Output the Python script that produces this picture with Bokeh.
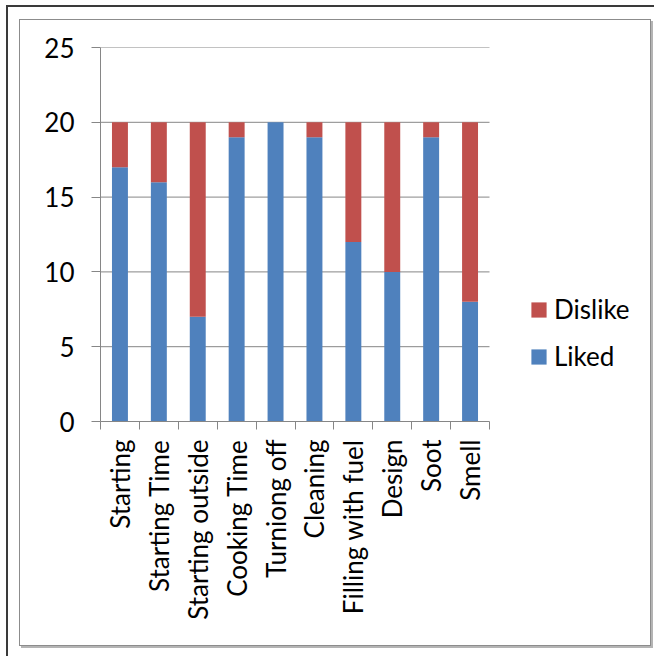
import math
from bokeh.plotting import figure
from bokeh.models import ColumnDataSource, Range1d, FixedTicker, Legend, LegendItem
from bokeh.embed import file_html
from bokeh.resources import INLINE

# Survey of stove features: how many users liked / disliked each aspect
categories = ["Starting", "Starting Time", "Starting outside", "Cooking Time",
              "Turniong off", "Cleaning", "Filling with fuel", "Design", "Soot", "Smell"]
liked = [17, 16, 7, 19, 20, 19, 12, 10, 19, 8]
dislike = [3, 4, 13, 1, 0, 1, 8, 10, 1, 12]
y_ticks = [0, 5, 10, 15, 20, 25]

BLUE = "#4F81BD"
RED = "#C0504D"
GRID = "#868686"
FONT = "Lato"
FONT_SIZE = "26px"

WIDTH, HEIGHT = 654, 656
LEFT, TOP, BOTTOM = 100, 47, 235
SLOT_PX = 38.9          # horizontal space given to one category
n = len(categories)


def css_line(color, x, y, w, h):
    return f"linear-gradient({color}, {color}) {x}px {y}px / {w}px {h}px no-repeat"


# outer frame (left/top edges) and the chart box with a soft shadow, painted
# behind the transparent canvas
frame_css = ", ".join([
    css_line("#3a3a3a", 6, 5, 2, 660),
    css_line("#3a3a3a", 6, 5, 660, 2),
    css_line("#8c8c8c", 19, 19, 1, 627),
    css_line("#8c8c8c", 19, 19, 632, 1),
    css_line("#8c8c8c", 650, 19, 1, 627),
    css_line("#8c8c8c", 19, 645, 632, 1),
    css_line("#b4b4b4", 651, 21, 2, 627),
    css_line("#b4b4b4", 21, 646, 632, 2),
])

positions = list(range(1, n + 1))
source = ColumnDataSource(dict(x=positions, liked=liked, dislike=dislike))

# the plotting area runs on to the right edge so the legend can sit beside the bars
x_end = 0.5 + (WIDTH - LEFT) / SLOT_PX
p = figure(width=WIDTH, height=HEIGHT, x_range=Range1d(0.5, x_end),
           y_range=Range1d(0, 25), output_backend="svg", toolbar_location=None,
           min_border_left=LEFT, min_border_right=0, min_border_top=TOP,
           min_border_bottom=BOTTOM, styles={"background": frame_css})
p.outline_line_color = None
p.background_fill_alpha = 0
p.border_fill_alpha = 0
p.xgrid.grid_line_color = None
p.ygrid.grid_line_color = None

# horizontal gridlines over the category area only
grid_y = [t for t in y_ticks if t > 0]
p.segment(x0=[0.5] * len(grid_y), x1=[n + 0.5] * len(grid_y), y0=grid_y, y1=grid_y,
          line_color=GRID, line_width=1)

r_liked, r_dislike = p.vbar_stack(["liked", "dislike"], x="x", width=0.41,
                                  color=[BLUE, RED], line_color=None, source=source)

# y axis
p.yaxis.ticker = FixedTicker(ticks=y_ticks)
p.yaxis.axis_line_color = GRID
p.yaxis.major_tick_line_color = GRID
p.yaxis.major_tick_out = 9
p.yaxis.major_tick_in = 0
p.yaxis.minor_tick_line_color = None
p.yaxis.major_label_text_font = FONT
p.yaxis.major_label_text_font_size = FONT_SIZE
p.yaxis.major_label_text_color = "black"
p.yaxis.major_label_standoff = 17

# x axis: labels at category centres, tick marks on category boundaries
p.xaxis.bounds = (0.5, n + 0.5)
p.xaxis.ticker = FixedTicker(ticks=positions,
                             minor_ticks=[i + 0.5 for i in range(0, n + 1)])
p.xaxis.major_label_overrides = {pos: name for pos, name in zip(positions, categories)}
p.xaxis.major_label_orientation = math.pi / 2
p.xaxis.major_tick_line_color = None
p.xaxis.major_tick_out = 8
p.xaxis.minor_tick_line_color = GRID
p.xaxis.minor_tick_out = 8
p.xaxis.minor_tick_in = 0
p.xaxis.axis_line_color = GRID
p.xaxis.major_label_text_font = FONT
p.xaxis.major_label_text_font_size = FONT_SIZE
p.xaxis.major_label_text_color = "black"
p.xaxis.major_label_standoff = 10

legend = Legend(items=[LegendItem(label="Dislike", renderers=[r_dislike]),
                       LegendItem(label="Liked", renderers=[r_liked])],
                location=(429, 49), margin=0, padding=0,
                glyph_width=19, glyph_height=19, label_height=32, spacing=15,
                label_standoff=6, border_line_color=None, background_fill_alpha=0,
                label_text_font=FONT, label_text_font_size=FONT_SIZE,
                label_text_color="black")
p.add_layout(legend, "center")

open("out.html", "w").write(file_html(p, INLINE))
